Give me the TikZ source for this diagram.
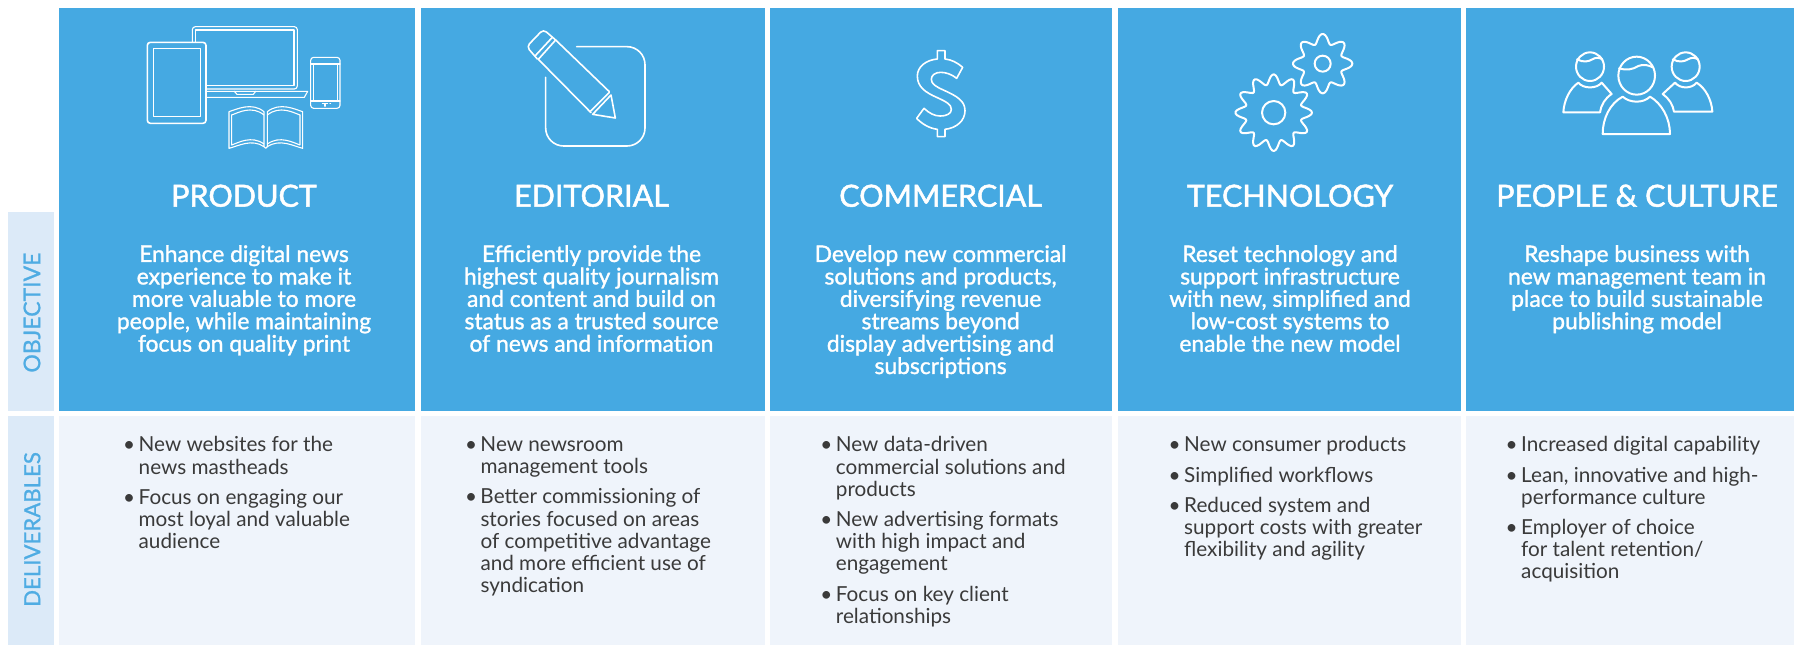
\documentclass[tikz,border=0pt]{standalone}
\usepackage{fontspec}
\setmainfont{Lato}
\newfontfamily\objfont[FakeBold=1.4]{Lato}
\newfontfamily\headfont[FakeBold=1.6]{Lato}
\newfontfamily\labelfont[FakeBold=1.0]{Lato}
\definecolor{topblue}{HTML}{45A9E2}
\definecolor{lowpanel}{HTML}{EFF4FB}
\definecolor{sidepanel}{HTML}{DCEAF8}
\definecolor{sidetext}{HTML}{4FACE3}
\definecolor{bodytext}{HTML}{3A3A3A}
\newcommand{\BL}{\makebox[15.5pt][l]{\textbullet}}
\newcommand{\CL}{\hspace*{15.5pt}}
\tikzset{
  cell/.style={anchor=north west,inner sep=0pt,outer sep=0pt,draw=none},
  bluecell/.style={cell,fill=topblue},
  lowcell/.style={cell,fill=lowpanel},
  sidecell/.style={cell,fill=sidepanel},
  headtext/.style={anchor=base,inner sep=0pt,text=white,font=\headfont\fontsize{30.5}{36}\selectfont},
  objtext/.style={anchor=north,inner sep=0pt,text=white,align=center,
    font=\objfont\fontsize{22.8}{22.4}\selectfont,execute at begin node={\rule{0pt}{16pt}}},
  listtext/.style={anchor=north west,inner sep=0pt,text=bodytext,align=left,
    font=\fontsize{20.7}{22.2}\selectfont,execute at begin node={\rule{0pt}{16pt}}},
  sidetextstyle/.style={anchor=base,rotate=90,inner sep=0pt,text=sidetext},
  iconthin/.style={draw=white,line width=1.1pt,line join=round,line cap=round},
  iconline/.style={draw=white,line width=1.6pt,line join=round,line cap=round},
  iconthick/.style={draw=white,line width=2pt,line join=round,line cap=round},
}
\begin{document}
\begin{tikzpicture}[x=1pt,y=-1pt]
\useasboundingbox (0,0) rectangle (1794,645);
\fill[white] (0,0) rectangle (1794,645);
% side labels
\node[sidecell,minimum width=45.2pt,minimum height=199pt] (objcell) at (8.4,211.7) {};
\node[sidecell,minimum width=45.2pt,minimum height=229pt] (delcell) at (8.4,416) {};
\node[sidetextstyle,font=\labelfont\fontsize{23}{26}\selectfont] (objlabel) at (40.2,312.6) {OBJECTIVE};
\node[sidetextstyle,font=\labelfont\fontsize{22.2}{26}\selectfont] (dellabel) at (40.2,529.5) {DELIVERABLES};
% top cells
\node[bluecell,minimum width=356.7pt,minimum height=403.2pt] (t1) at (58.5,7.5) {};
\node[bluecell,minimum width=343.6pt,minimum height=403.2pt] (t2) at (421,7.5) {};
\node[bluecell,minimum width=342.9pt,minimum height=403.2pt] (t3) at (769.5,7.5) {};
\node[bluecell,minimum width=342.9pt,minimum height=403.2pt] (t4) at (1117.8,7.5) {};
\node[bluecell,minimum width=328pt,minimum height=403.2pt] (t5) at (1466,7.5) {};
% lower cells
\node[lowcell,minimum width=356.7pt,minimum height=229pt] (b1) at (58.5,416) {};
\node[lowcell,minimum width=343.6pt,minimum height=229pt] (b2) at (421,416) {};
\node[lowcell,minimum width=342.9pt,minimum height=229pt] (b3) at (769.5,416) {};
\node[lowcell,minimum width=342.9pt,minimum height=229pt] (b4) at (1117.8,416) {};
\node[lowcell,minimum width=328pt,minimum height=229pt] (b5) at (1466,416) {};
% headings
\node[headtext] (h1) at (244,206.7) {PRODUCT};
\node[headtext] (h2) at (591.5,206.7) {EDITORIAL};
\node[headtext] (h3) at (940.6,206.7) {COMMERCIAL};
\node[headtext] (h4) at (1290,206.7) {TECHNOLOGY};
\node[headtext] (h5) at (1637,206.7) {PEOPLE \& CULTURE};
% objectives
\node[objtext] (o1) at (244,245) {Enhance digital news\\experience to make it\\more valuable to more\\people, while maintaining\\focus on quality print};
\node[objtext] (o2) at (591.5,245) {Efficiently provide the\\highest quality journalism\\and content and build on\\status as a trusted source\\of news and information};
\node[objtext] (o3) at (940.6,245) {Develop new commercial\\solutions and products,\\diversifying revenue\\streams beyond\\display advertising and\\subscriptions};
\node[objtext] (o4) at (1290,245) {Reset technology and\\support infrastructure\\with new, simplified and\\low-cost systems to\\enable the new model};
\node[objtext] (o5) at (1637,245) {Reshape business with\\new management team in\\place to build sustainable\\publishing model};
% deliverables
\node[listtext] (l1) at (123,436.5) {\BL New websites for the\\\CL news mastheads\\[8pt]\BL Focus on engaging our\\\CL most loyal and valuable\\\CL audience};
\node[listtext] (l2) at (464.8,436.5) {\BL New newsroom\\\CL management tools\\[8pt]\BL Better commissioning of\\\CL stories focused on areas\\\CL of competitive advantage\\\CL and more efficient use of\\\CL syndication};
\node[listtext] (l3) at (820.2,436.5) {\BL New data-driven\\\CL commercial solutions and\\\CL products\\[8pt]\BL New advertising formats\\\CL with high impact and\\\CL engagement\\[8pt]\BL Focus on key client\\\CL relationships};
\node[listtext] (l4) at (1168.5,436.5) {\BL New consumer products\\[8pt]\BL Simplified workflows\\[8pt]\BL Reduced system and\\\CL support costs with greater\\\CL flexibility and agility};
\node[listtext] (l5) at (1505.5,436.5) {\BL Increased digital capability\\[8pt]\BL Lean, innovative and high-\\\CL performance culture\\[8pt]\BL Employer of choice\\\CL for talent retention/\\\CL acquisition};
% devices icon
\begin{scope}[shift={(140,20)},scale=1/3]
  \draw[iconthin,rounded corners=3pt] (198,207) -- (157,207) -- (157,20) -- (472,20) -- (472,207) -- (198,207);
  \draw[iconthin] (198,197) -- (167,197) -- (167,30) -- (462,30) -- (462,197) -- cycle;
  \draw[iconthin] (198,214) -- (503,214) -- (493,232) -- (198,232);
  \draw[iconthin] (283,214) -- (291,223) -- (340,223) -- (347,214);
  \draw[iconline,fill=topblue,rounded corners=3pt] (22,67) rectangle (198,310);
  \draw[iconthin] (40,86) rectangle (181,290);
  \draw[iconthin,rounded corners=3pt] (512,112) rectangle (600,265);
  \draw[iconthin] (520,132) -- (520,243) (592,132) -- (592,243) (512,132) -- (600,132) (512,243) -- (600,243);
  \draw[iconthin] (547,251) -- (563,251) (555,251) -- (555,259) (570,251) -- (572,251);
  \draw[iconthin] (267,275) .. controls (290,268) and (335,245) .. (372,275) -- (372,380) .. controls (335,355) and (295,378) .. (267,385) -- cycle;
  \draw[iconthin] (488,275) .. controls (465,268) and (420,245) .. (382,275) -- (382,380) .. controls (420,355) and (460,378) .. (488,385) -- cycle;
  \draw[iconthin] (275,285) .. controls (295,278) and (335,255) .. (372,285);
  \draw[iconthin] (480,285) .. controls (460,278) and (420,255) .. (382,285);
  \draw[iconthin] (275,285) -- (275,375) .. controls (295,368) and (335,345) .. (372,372);
  \draw[iconthin] (480,285) -- (480,375) .. controls (460,368) and (420,345) .. (382,372);
  \draw[iconthin] (372,380) -- (377,385) -- (382,380);
\end{scope}
% editorial icon
\begin{scope}[shift={(510,20)},scale=1/3]
  \draw[iconline,rounded corners=18pt] (200,80) -- (405,80) -- (405,378) -- (107,378) -- (107,172);
  \draw[iconline,rounded corners=4pt] (82,117) -- (50,80) -- (100,28) -- (137,60);
  \draw[iconline] (75,108) -- (127,52);
  \draw[iconline] (85,118) -- (137,60);
  \draw[iconline] (85,118) -- (243,278);
  \draw[iconline] (137,60) -- (298,215);
  \draw[iconline] (242,273) -- (298,217);
  \draw[iconline] (248,283) -- (303,225) -- (316,294) -- cycle;
\end{scope}
% dollar icon
\begin{scope}[shift={(900,40)},scale=1/3]
  \draw[iconline] (112,32)--(135,32)--(135,57) .. controls (155,59) and (172,68) .. (188,82) -- (170,115) .. controls (155,103) and (138,97) .. (122,97) .. controls (105,97) and (94,106) .. (94,118) .. controls (94,132) and (108,140) .. (130,150) .. controls (170,168) and (195,182) .. (195,212) .. controls (195,242) and (170,264) .. (135,268) -- (135,290)--(112,290)--(112,268) .. controls (88,265) and (66,252) .. (50,235) -- (72,205) .. controls (88,220) and (104,228) .. (120,228) .. controls (142,228) and (154,220) .. (154,208) .. controls (154,193) and (138,185) .. (112,173) .. controls (75,157) and (52,140) .. (52,108) .. controls (52,80) and (78,60) .. (112,57) -- cycle;
\end{scope}
% gears icon
\begin{scope}[shift={(1220,25)},scale=1/3]
  \draw[iconthick] plot[smooth cycle,samples=145,domain=0:357.5,variable=\t] ({308+(61+14*(1+cos(8*(\t+90))))*cos(\t)},{116+(61+14*(1+cos(8*(\t+90))))*sin(\t)});
  \draw[iconthick] (308,116) circle[radius=24];
  \draw[iconthick] plot[smooth cycle,samples=145,domain=0:357.5,variable=\t] ({161+(85+15*(1+cos(12*(\t+90))))*cos(\t)},{263+(85+15*(1+cos(12*(\t+90))))*sin(\t)});
  \draw[iconthick] (161,263) circle[radius=35];
\end{scope}
% people icon
\begin{scope}[shift={(1555,40)},scale=1/3]
  \draw[iconthick] (245,107) circle[x radius=55,y radius=57];
  \draw[iconthick] (192,85) .. controls (215,92) and (235,88) .. (250,78) .. controls (265,72) and (280,75) .. (293,82);
  \draw[iconthick] (203,170) .. controls (225,190) and (265,190) .. (285,170) .. controls (320,190) and (345,235) .. (345,282) -- (143,282) .. controls (143,235) and (165,190) .. (203,170) -- cycle;
  \draw[iconthick] (105,80) circle[x radius=42,y radius=43];
  \draw[iconthick] (66,58) .. controls (85,68) and (100,65) .. (112,58) .. controls (122,52) and (132,52) .. (142,58);
  \draw[iconthick] (70,128) .. controls (85,147) and (125,147) .. (140,128) -- (170,162) .. controls (150,175) and (138,195) .. (135,217) -- (25,217) .. controls (27,180) and (45,145) .. (70,128) -- cycle;
  \draw[iconthick] (392,80) circle[x radius=42,y radius=43];
  \draw[iconthick] (353,58) .. controls (372,68) and (387,65) .. (399,58) .. controls (409,52) and (419,52) .. (429,58);
  \draw[iconthick] (360,128) .. controls (375,147) and (410,147) .. (425,128) .. controls (452,145) and (470,180) .. (472,215) -- (357,215) .. controls (354,195) and (342,175) .. (323,162) -- (360,128) -- cycle;
\end{scope}
\end{tikzpicture}
\end{document}
